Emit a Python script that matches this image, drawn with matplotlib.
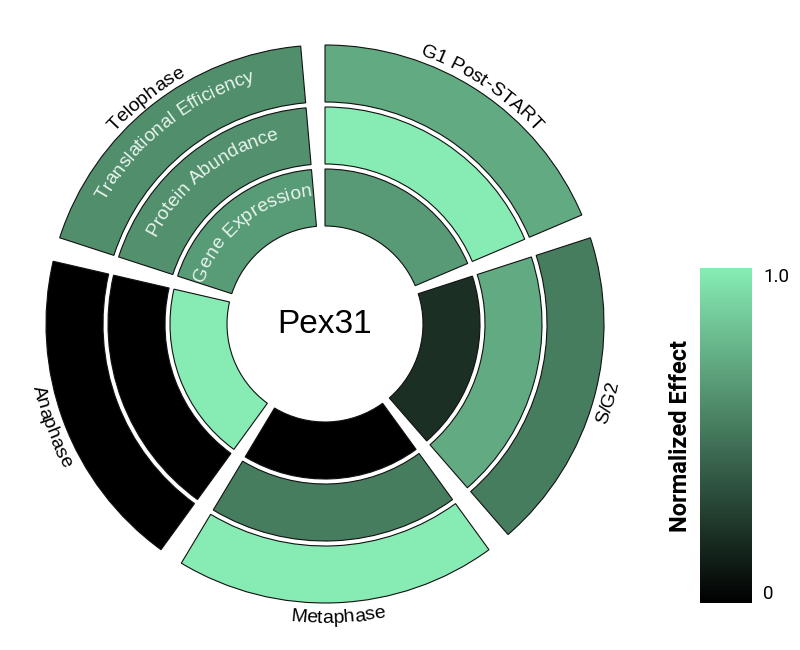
import numpy as np
import matplotlib
matplotlib.use("Agg")
import matplotlib.pyplot as plt
from matplotlib.patches import Wedge
from matplotlib.colors import LinearSegmentedColormap, Normalize
from matplotlib.cm import ScalarMappable
from matplotlib.font_manager import FontProperties
from matplotlib.textpath import text_to_path

# ── data ────────────────────────────────────────────────────────────────────
gene_name = "Pex31"
phases = ["G1 Post-START", "S/G2", "Metaphase", "Anaphase", "Telophase"]
layers = ["Gene Expression", "Protein Abundance", "Translational Efficiency"]
gene_expression          = [0.65, 0.20, 0.00, 1.00, 0.66]
protein_abundance        = [1.00, 0.72, 0.53, 0.00, 0.61]
translational_efficiency = [0.72, 0.53, 1.00, 0.00, 0.60]
cbar_ticks      = [0, 1]
cbar_ticklabels = ["0", "1.0"]
cbar_label      = "Normalized Effect"

# ── layout (axes units = pixels) ────────────────────────────────────────────
DPI      = 100
R_HOLE   = 98
RING_W   = 57
RING_GAP = 5
SPAN     = 67
STEP     = 72
FONT     = "Liberation Sans"

cmap = LinearSegmentedColormap.from_list("fx", ["#000000", "#86ECB4"])
norm = Normalize(0, 1)


def char_advances(s, fp):
    # advance of each glyph, measured between two bars so spaces count too
    bar = text_to_path.get_text_width_height_descent("||", fp, ismath=False)[0]
    out = []
    for c in s:
        w = text_to_path.get_text_width_height_descent("|" + c + "|", fp, ismath=False)[0]
        out.append((w - bar) * DPI / 72)
    return np.array(out)


def curved_text(ax, s, r_mid, theta_mid, flip, size, color):
    fp = FontProperties(family=FONT, size=size)
    cap = 0.72 * size * DPI / 72
    r = r_mid + cap / 2 if flip else r_mid - cap / 2
    adv = char_advances(s, fp)
    pos = np.cumsum(adv) - adv / 2 - adv.sum() / 2
    for c, p in zip(s, pos):
        if c == " ":
            continue
        d = np.degrees(p / r)
        if flip:
            a, rot = theta_mid + d, theta_mid + d + 90
        else:
            a, rot = theta_mid - d, theta_mid - d - 90
        ax.text(r * np.cos(np.radians(a)), r * np.sin(np.radians(a)), c,
                rotation=rot, rotation_mode="anchor", ha="center", va="baseline",
                fontproperties=fp, color=color)


fig = plt.figure(figsize=(8, 6.5), dpi=DPI)
ax = fig.add_axes([0, 0, 1, 1])
ax.set_xlim(-325, 475)
ax.set_ylim(-326, 324)
ax.axis("off")

ring_values = [gene_expression, protein_abundance, translational_efficiency]
for i, phase in enumerate(phases):
    t2 = 90 - i * STEP
    t1 = t2 - SPAN
    for k, vals in enumerate(ring_values):
        r_in  = R_HOLE + k * (RING_W + RING_GAP)
        r_out = r_in + RING_W
        ax.add_patch(Wedge((0, 0), r_out, t1, t2, width=RING_W,
                           facecolor=cmap(norm(vals[i])), edgecolor="#111111", linewidth=0.8))
    mid = (t1 + t2) / 2
    # labels on the lower half are turned so they read left to right
    flip = np.sin(np.radians(mid)) < 0
    curved_text(ax, phase, 292, mid, flip, 14, "black")

# ring names in the last (Telophase) sector
t2 = 90 - (len(phases) - 1) * STEP
mid = t2 - SPAN / 2
for k, name in enumerate(layers):
    r_c = R_HOLE + k * (RING_W + RING_GAP) + RING_W / 2 + 9
    curved_text(ax, name, r_c, mid, False, 13.8, "#E8F5EE")

ax.text(0, 0, gene_name, ha="center", va="center", fontsize=24, family=FONT)

# ── colorbar ────────────────────────────────────────────────────────────────
cax = fig.add_axes([700 / 800, 47 / 650, 52 / 800, 335 / 650])
cb = fig.colorbar(ScalarMappable(norm=norm, cmap=cmap), cax=cax)
cb.outline.set_visible(False)
cb.set_ticks(cbar_ticks)
cb.set_ticklabels(cbar_ticklabels)
cax.tick_params(length=0, labelsize=13.5, pad=8)
labs = cax.get_yticklabels()
for t in labs:
    t.set_family("Roboto")
labs[0].set_va("bottom")
labs[1].set_va("top")
cax.yaxis.set_label_position("left")
cb.set_label(cbar_label, family="Roboto", fontsize=17, fontweight="bold", labelpad=6)

fig.savefig("out.png", dpi=DPI)
